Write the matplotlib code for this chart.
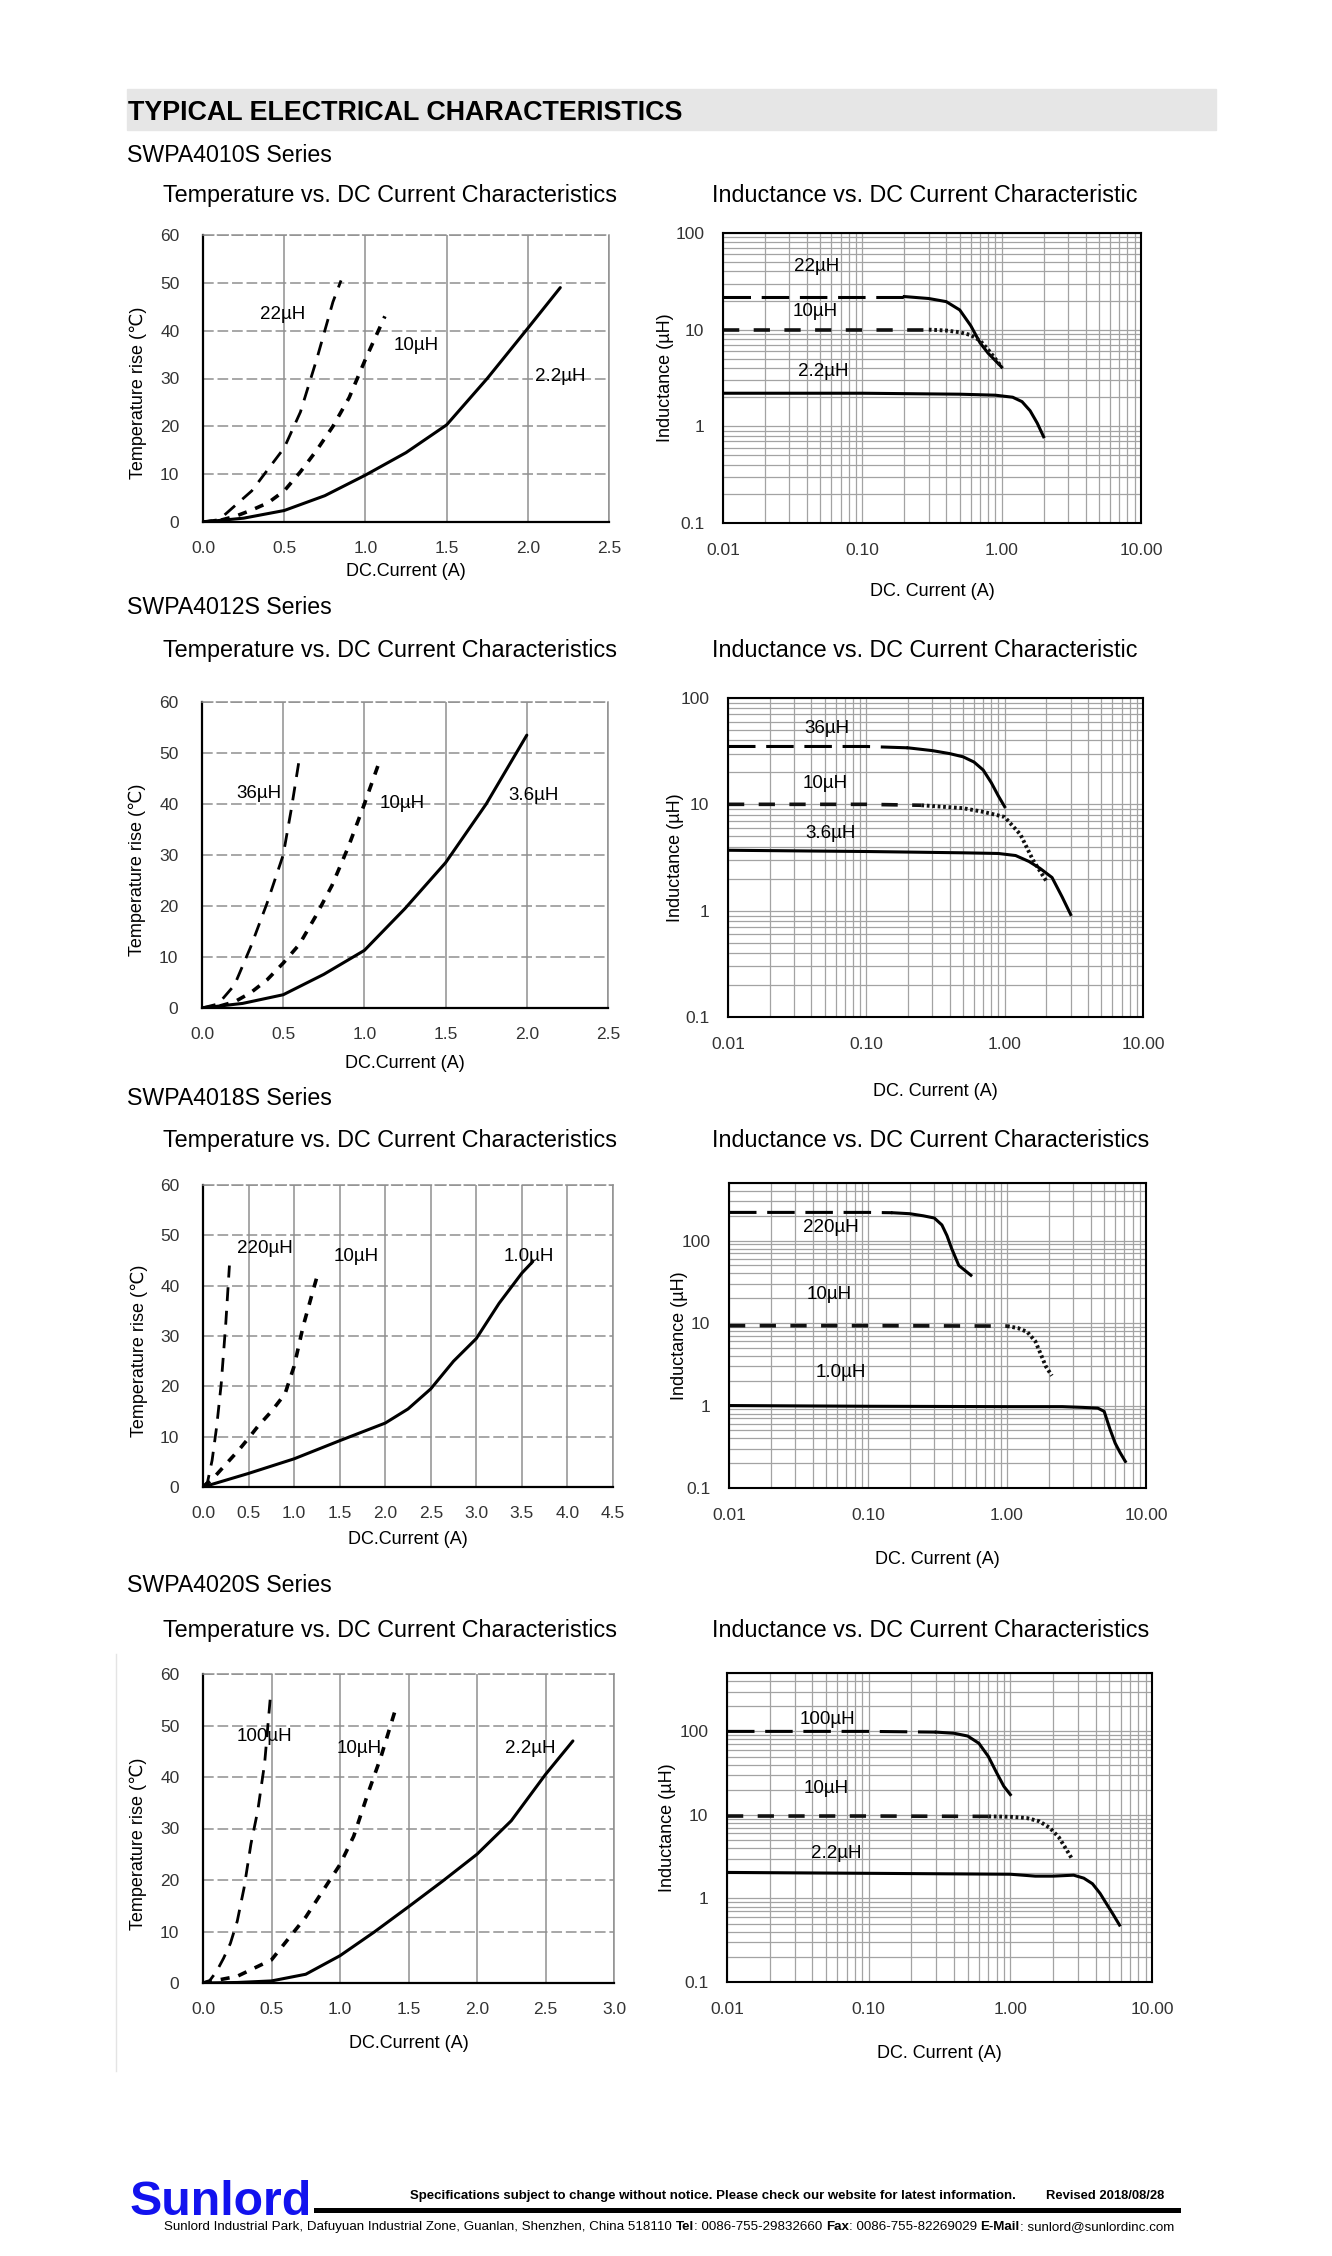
import numpy as np
import matplotlib.pyplot as plt
from matplotlib import font_manager as fm
from matplotlib.patches import Rectangle
from matplotlib.lines import Line2D
from matplotlib.ticker import LogLocator, NullFormatter

W, H = 1332, 2256

# ---------------- data ----------------
series_names = ['SWPA4010S Series', 'SWPA4012S Series', 'SWPA4018S Series', 'SWPA4020S Series']
temp_xmax = [2.5, 2.5, 4.5, 3.0]
ind_ymax = [100, 100, 500, 500]
ind_titles = ['Inductance vs. DC Current Characteristic',
              'Inductance vs. DC Current Characteristic',
              'Inductance vs. DC Current Characteristics',
              'Inductance vs. DC Current Characteristics']

# SWPA4010S
l4010 = ['22µH', '10µH', '2.2µH']
t4010_i = [[0, 0.1, 0.2, 0.3, 0.4, 0.5, 0.6, 0.7, 0.8, 0.85],
           [0, 0.1, 0.2, 0.3, 0.4, 0.5, 0.6, 0.7, 0.8, 0.9, 1.0, 1.12],
           [0, 0.25, 0.5, 0.75, 1.0, 1.25, 1.5, 1.75, 2.0, 2.2]]
t4010_t = [[0, 0.5, 3.5, 6.5, 11, 15.5, 23, 34, 46, 50.5],
           [0, 0.3, 1.2, 2.5, 4, 6.5, 10.5, 15, 20, 26, 34, 43],
           [0, 0.8, 2.4, 5.5, 9.8, 14.5, 20.3, 30, 40.5, 49]]
L4010_i = [[0.01, 0.1, 0.2, 0.3, 0.4, 0.5, 0.6, 0.7, 0.8, 0.9, 1.0],
           [0.01, 0.1, 0.3, 0.4, 0.5, 0.6, 0.7, 0.8, 0.9, 1.0],
           [0.01, 0.1, 0.5, 0.9, 1.2, 1.4, 1.6, 1.8, 2.0]]
L4010_l = [[22, 22, 22, 21, 19.5, 16, 11, 7.3, 5.7, 4.8, 4.1],
           [10, 10, 10, 9.8, 9.4, 8.8, 7.7, 6.2, 5.0, 4.1],
           [2.2, 2.2, 2.15, 2.1, 2.0, 1.8, 1.45, 1.08, 0.78]]

# SWPA4012S
l4012 = ['36µH', '10µH', '3.6µH']
t4012_i = [[0, 0.1, 0.2, 0.3, 0.4, 0.5, 0.55, 0.6],
           [0, 0.1, 0.2, 0.3, 0.4, 0.5, 0.6, 0.7, 0.8, 0.9, 1.0, 1.1],
           [0, 0.25, 0.5, 0.75, 1.0, 1.25, 1.5, 1.75, 2.0]]
t4012_t = [[0, 0.8, 4.5, 12, 20.5, 30, 39, 49],
           [0, 0.3, 1.2, 3, 5.5, 8.8, 12.5, 18, 24, 31.5, 40, 49],
           [0, 0.9, 2.6, 6.6, 11.3, 19.5, 28.5, 40, 53.5]]
L4012_i = [[0.01, 0.1, 0.2, 0.3, 0.4, 0.5, 0.6, 0.7, 0.8, 0.9, 1.0],
           [0.01, 0.1, 0.25, 0.5, 0.7, 1.0, 1.3, 1.6, 2.0],
           [0.01, 0.1, 0.5, 0.9, 1.2, 1.5, 1.8, 2.2, 2.6, 3.0]]
L4012_l = [[35, 35, 34, 32, 30, 28, 25, 21, 16, 12, 9.5],
           [10, 10, 9.8, 9.2, 8.5, 7.6, 5.2, 3.0, 1.9],
           [3.7, 3.6, 3.5, 3.45, 3.3, 2.9, 2.5, 2.05, 1.35, 0.92]]

# SWPA4018S
l4018 = ['220µH', '10µH', '1.0µH']
t4018_i = [[0, 0.05, 0.1, 0.15, 0.2, 0.25, 0.29],
           [0, 0.1, 0.25, 0.4, 0.5, 0.6, 0.75, 0.9, 1.0, 1.1, 1.2, 1.27],
           [0, 0.5, 1.0, 1.5, 2.0, 2.25, 2.5, 2.75, 3.0, 3.25, 3.5, 3.62]]
t4018_t = [[0, 1, 5.3, 12, 20.5, 32.5, 44],
           [0, 1.5, 4.5, 7.5, 9.7, 12, 15, 18.5, 24, 32, 38.5, 43],
           [0, 2.7, 5.6, 9.2, 12.7, 15.5, 19.5, 25, 29.5, 36.5, 42.5, 44.8]]
L4018_i = [[0.01, 0.1, 0.15, 0.2, 0.25, 0.3, 0.34, 0.37, 0.4, 0.45, 0.55],
           [0.01, 0.1, 1.0, 1.2, 1.4, 1.6, 1.75, 1.9, 2.1],
           [0.01, 0.1, 1.0, 2.5, 3.5, 4.5, 5.0, 5.5, 6.0, 6.5, 7.1]]
L4018_l = [[220, 220, 218, 212, 200, 188, 155, 115, 80, 50, 38],
           [9.3, 9.3, 9.2, 8.7, 7.8, 6.0, 4.2, 3.0, 2.3],
           [1.0, 0.98, 0.97, 0.97, 0.95, 0.93, 0.85, 0.52, 0.35, 0.27, 0.21]]

# SWPA4020S
l4020 = ['100µH', '10µH', '2.2µH']
t4020_i = [[0, 0.05, 0.1, 0.15, 0.2, 0.25, 0.3, 0.35, 0.4, 0.45, 0.49],
           [0, 0.25, 0.5, 0.75, 1.0, 1.1, 1.2, 1.3, 1.4],
           [0, 0.25, 0.5, 0.75, 1.0, 1.25, 1.5, 1.75, 2.0, 2.25, 2.5, 2.7]]
t4020_t = [[0, 0.5, 2.3, 4.8, 7.7, 12, 18.5, 27, 33.5, 42.7, 55],
           [0, 1.3, 4.5, 12.8, 23, 28.5, 36.5, 44, 52.7],
           [0, 0.1, 0.4, 1.7, 5.3, 9.9, 14.8, 19.8, 25, 31.5, 40.5, 47]]
L4020_i = [[0.01, 0.1, 0.3, 0.4, 0.5, 0.6, 0.7, 0.8, 0.9, 1.0],
           [0.01, 0.1, 0.7, 1.0, 1.3, 1.6, 1.9, 2.2, 2.5, 2.75],
           [0.01, 0.1, 1.0, 1.5, 2.0, 2.8, 3.3, 3.8, 4.3, 4.8, 5.3, 5.9]]
L4020_l = [[100, 100, 98, 95, 88, 72, 50, 32, 22, 17.5],
           [9.7, 9.7, 9.6, 9.5, 9.2, 8.4, 7.0, 5.4, 3.8, 2.9],
           [2.05, 2.0, 1.95, 1.85, 1.85, 1.9, 1.75, 1.5, 1.15, 0.85, 0.65, 0.48]]

# ---------------- layout (page pixels: left, top, right, bottom) ----------------
temp_boxes = [(203, 235, 609, 522), (202, 702, 608, 1008), (203, 1185, 613, 1487), (203, 1674, 614, 1983)]
ind_boxes = [(723, 233, 1141, 523), (728, 698, 1143, 1017), (729, 1183, 1146, 1488), (727, 1673, 1152, 1982)]
series_base = [162, 614, 1105, 1592]
title_base = [202, 657, 1147, 1637]
temp_ylab_x = [138, 137, 139, 138]
ind_ylab_x = [666, 676, 679, 667]
temp_xlab_off = [50, 56, 53, 60]
ind_xlab_off = [69, 75, 71, 71]
temp_lab_pos = [[(0.49, 43.3), (1.31, 37), (2.2, 30.4)],
                [(0.35, 42), (1.23, 40.1), (2.04, 41.7)],
                [(0.68, 47.4), (1.68, 45.7), (3.58, 45.7)],
                [(0.45, 47.9), (1.14, 45.6), (2.39, 45.6)]]
ind_lab_pos = [[(0.047, 45), (0.046, 15.4), (0.052, 3.7)],
               [(0.052, 52), (0.05, 15.8), (0.055, 5.3)],
               [(0.054, 145), (0.053, 22.5), (0.064, 2.5)],
               [(0.051, 140), (0.05, 21), (0.059, 3.5)]]
ind_split = [(0.2, 0.3), (0.2, 0.25), (0.15, 1.0), (0.3, 0.7)]

temp_styles = [dict(lw=2.0, dashes=(5, 3.5)),
               dict(lw=2.6, dashes=(2.5, 2.5)),
               dict(lw=2.2, ls='-')]

installed = {f.name for f in fm.fontManager.ttflist}
BASE = 'Liberation Sans'
NARROW = 'Liberation Sans Narrow' if 'Liberation Sans Narrow' in installed else BASE
plt.rcParams['font.family'] = [BASE, 'DejaVu Sans']

fig = plt.figure(figsize=(W / 100, H / 100), dpi=100)
fig.patch.set_facecolor('white')
renderer = fig.canvas.get_renderer()


def fx(px):
    return px / W


def fy(py):
    return 1 - py / H


def box(l, t, r, b):
    return [fx(l), fy(b), (r - l) / W, (b - t) / H]


def fit_text(x0, x1, ybase, s, family, weight='normal', color='k', ha='left'):
    t = fig.text(fx(x0), fy(ybase), s, fontsize=10, family=[family, 'DejaVu Sans'],
                 fontweight=weight, color=color, va='baseline')
    w = t.get_window_extent(renderer).width
    t.set_fontsize(10 * (x1 - x0) / w)
    if ha == 'right':
        t.set_position((fx(x1), fy(ybase)))
        t.set_ha('right')
    return t


def runs_line(x0, x1, ybase, runs, family):
    # runs: (text, weight, spaces after)
    fam = [family, 'DejaVu Sans']
    probe1 = fig.text(0, 0, 'a a', fontsize=10, family=fam)
    probe2 = fig.text(0, 0, 'aa', fontsize=10, family=fam)
    space = probe1.get_window_extent(renderer).width - probe2.get_window_extent(renderer).width
    probe1.remove()
    probe2.remove()
    texts = [fig.text(0, fy(ybase), s, fontsize=10, family=fam, fontweight=w, va='baseline')
             for s, w, _ in runs]
    total = sum(t.get_window_extent(renderer).width for t in texts) + space * sum(g for _, _, g in runs)
    size = 10 * (x1 - x0) / total
    space *= size / 10
    x = x0
    for t, (_, _, g) in zip(texts, runs):
        t.set_fontsize(size)
        t.set_x(fx(x))
        x += t.get_window_extent(renderer).width + g * space


def temp_chart(k, xs, ys, labels):
    l, t, r, b = temp_boxes[k]
    ax = fig.add_axes(box(l, t, r, b))
    xmax = temp_xmax[k]
    ax.set_xlim(0, xmax)
    ax.set_ylim(0, 60)
    xt = np.arange(0, xmax + 0.01, 0.5)
    ax.set_xticks(xt)
    ax.set_xticklabels([f'{v:.1f}' for v in xt])
    ax.set_yticks(range(0, 61, 10))
    ax.grid(axis='x', color='#8f8f8f', lw=1.1)
    ax.grid(axis='y', color='#8f8f8f', lw=1.1, linestyle=(0, (7, 2.5)))
    ax.set_axisbelow(True)
    for sp in ('left', 'bottom'):
        ax.spines[sp].set_color('k')
        ax.spines[sp].set_linewidth(1.6)
    ax.spines['right'].set_color('#8f8f8f')
    ax.spines['right'].set_linewidth(1.1)
    ax.spines['top'].set_color('#8f8f8f')
    ax.spines['top'].set_linewidth(1.1)
    ax.spines['top'].set_linestyle((0, (7, 2.5)))
    ax.tick_params(length=0, labelsize=12.5, labelcolor='#333333')
    ax.tick_params(axis='x', pad=14)
    ax.tick_params(axis='y', pad=17)
    for i in range(3):
        ax.plot(xs[i], ys[i], color='k', solid_capstyle='round', **temp_styles[i])
    for i, (px, py) in enumerate(temp_lab_pos[k]):
        ax.text(px, py, labels[i], ha='center', va='center', fontsize=13.5)
    ax.set_xlabel('DC.Current (A)', fontsize=13)
    ax.xaxis.label.set_va('center')
    ax.xaxis.set_label_coords(0.5, -temp_xlab_off[k] / (b - t))
    ax.set_ylabel('Temperature rise (℃)', fontsize=13)
    ax.yaxis.label.set_va('center')
    ax.yaxis.set_label_coords((temp_ylab_x[k] - l) / (r - l), 0.45)
    return ax


def split_at(x, y, xs):
    i = next(j for j, v in enumerate(x) if v >= xs)
    return (x[:i + 1], y[:i + 1]), (x[i:], y[i:])


def ind_chart(k, xs, ys, labels):
    l, t, r, b = ind_boxes[k]
    ax = fig.add_axes(box(l, t, r, b))
    ax.set_xscale('log')
    ax.set_yscale('log')
    ax.set_xlim(0.01, 10)
    ax.set_ylim(0.1, ind_ymax[k])
    ax.set_xticks([0.01, 0.1, 1, 10])
    ax.set_xticklabels(['0.01', '0.10', '1.00', '10.00'])
    ax.set_yticks([0.1, 1, 10, 100])
    ax.set_yticklabels(['0.1', '1', '10', '100'])
    ax.xaxis.set_minor_locator(LogLocator(base=10, subs=np.arange(2, 10), numticks=20))
    ax.yaxis.set_minor_locator(LogLocator(base=10, subs=np.arange(2, 10), numticks=20))
    ax.xaxis.set_minor_formatter(NullFormatter())
    ax.yaxis.set_minor_formatter(NullFormatter())
    ax.grid(which='both', color='#a3a3a3', lw=0.9)
    ax.set_axisbelow(True)
    for sp in ax.spines.values():
        sp.set_color('k')
        sp.set_linewidth(1.5)
    ax.tick_params(which='both', length=0, labelsize=12.5, labelcolor='#333333')
    ax.tick_params(axis='x', pad=14.5)
    ax.tick_params(axis='y', pad=13.5)
    s_big, s_ten = ind_split[k]
    head, tail = split_at(xs[0], ys[0], s_big)
    ax.plot(*head, color='k', lw=2.2, dashes=(9, 3.5))
    ax.plot(*tail, color='k', lw=2.2)
    head, tail = split_at(xs[1], ys[1], s_ten)
    ax.plot(*head, color='#111111', lw=2.6, dashes=(4.5, 4))
    ax.plot(*tail, color='#111111', lw=2.8, dashes=(0.7, 0.7))
    ax.plot(xs[2], ys[2], color='k', lw=2.2)
    for i, (px, py) in enumerate(ind_lab_pos[k]):
        ax.text(px, py, labels[i], ha='center', va='center', fontsize=13.5)
    ax.set_xlabel('DC. Current (A)', fontsize=13)
    ax.xaxis.label.set_va('center')
    ax.xaxis.set_label_coords(0.5, -ind_xlab_off[k] / (b - t))
    ax.set_ylabel('Inductance (µH)', fontsize=13)
    ax.yaxis.label.set_va('center')
    ax.yaxis.set_label_coords((ind_ylab_x[k] - l) / (r - l), 0.5)
    return ax


# header band
fig.add_artist(Rectangle((fx(126.6), fy(129.5)), (1215.5 - 126.6) / W, 40.5 / H,
                         transform=fig.transFigure, color='#e6e6e6', zorder=0))
fit_text(128, 680, 120, 'TYPICAL ELECTRICAL CHARACTERISTICS', NARROW, weight='bold')

all_labels = [l4010, l4012, l4018, l4020]
all_ti = [t4010_i, t4012_i, t4018_i, t4020_i]
all_tt = [t4010_t, t4012_t, t4018_t, t4020_t]
all_Li = [L4010_i, L4012_i, L4018_i, L4020_i]
all_Ll = [L4010_l, L4012_l, L4018_l, L4020_l]

for k in range(4):
    fig.text(fx(127), fy(series_base[k]), series_names[k], fontsize=16.7, va='baseline')
    fig.text(fx(163), fy(title_base[k]), 'Temperature vs. DC Current Characteristics',
             fontsize=16.8, va='baseline')
    fig.text(fx(712), fy(title_base[k]), ind_titles[k], fontsize=16.8, va='baseline')
    temp_chart(k, all_ti[k], all_tt[k], all_labels[k])
    ind_chart(k, all_Li[k], all_Ll[k], all_labels[k])

# faint scan edge left of the last chart
fig.add_artist(Line2D([fx(116), fx(116)], [fy(1654), fy(2071)], color='#e4e4e4', lw=1))

# footer
fit_text(130, 313, 2215, 'Sunlord', NARROW, weight='bold', color='#1212ee')
fig.add_artist(Line2D([fx(316), fx(1178)], [fy(2210), fy(2210)], color='k', lw=3.6))
fit_text(410, 1016, 2199,
         'Specifications subject to change without notice. Please check our website for latest information.',
         NARROW, weight='bold')
fit_text(1045, 1164, 2199, 'Revised 2018/08/28', NARROW, weight='bold', ha='right')
runs_line(164, 1175, 2230, [
    ('Sunlord Industrial Park, Dafuyuan Industrial Zone, Guanlan, Shenzhen, China 518110', 'normal', 1),
    ('Tel', 'bold', 0), (': 0086-755-29832660', 'normal', 1),
    ('Fax', 'bold', 0), (': 0086-755-82269029', 'normal', 1),
    ('E-Mail', 'bold', 0), (': sunlord@sunlordinc.com', 'normal', 0)], NARROW)

fig.savefig('out.png', dpi=100)
